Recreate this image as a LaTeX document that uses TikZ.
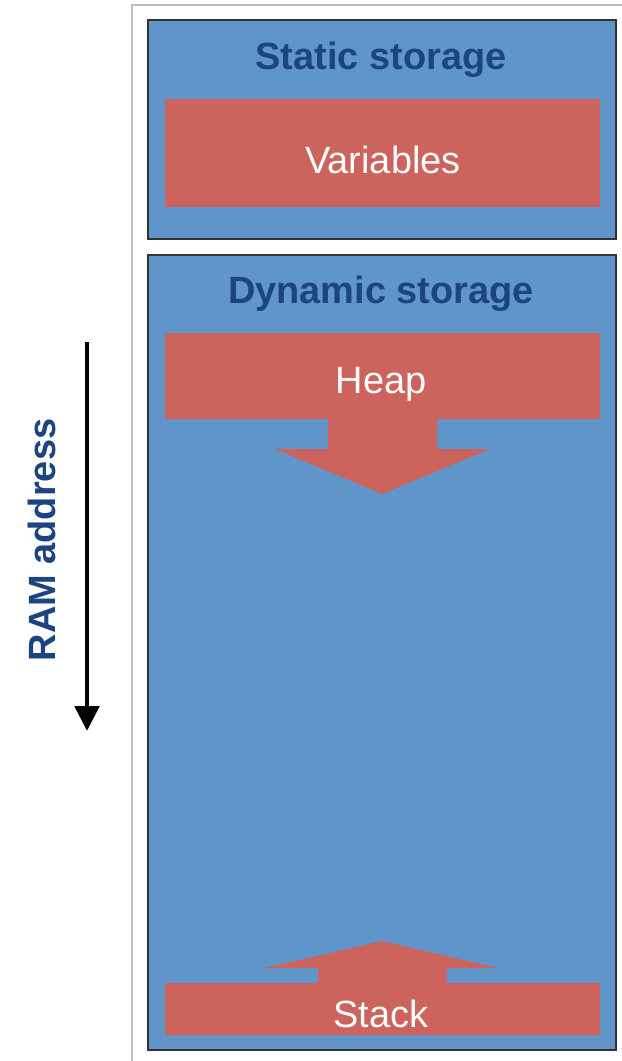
\documentclass[tikz,border=0pt]{standalone}
\usepackage{fontspec}
\setmainfont{Liberation Sans}
\usetikzlibrary{arrows.meta}
\definecolor{boxblue}{RGB}{95,149,201}
\definecolor{boxred}{RGB}{205,99,93}
\definecolor{titleblue}{RGB}{28,68,128}
\tikzset{
  region/.style={fill=boxblue,draw=black!80,line width=1.4pt},
  title/.style={font=\fontsize{27}{32}\selectfont\bfseries,text=titleblue},
  part/.style={font=\fontsize{27}{32}\selectfont,text=white}
}
\begin{document}
\begin{tikzpicture}[x=0.025cm,y=-0.025cm]
\useasboundingbox (0,0) rectangle (622,1061);

\draw[black!25,line width=1.2pt] (622,5) -- (132,5) -- (132,1061); % Outline of memory
%
\draw[region] (148,20) rectangle (616,239); % Static storage
\draw[region] (148,255) rectangle (616,1050); % Dynamic storage

\fill[boxred] (165,99) rectangle (600,207); % Variables
\fill[boxred] (165,333) -- (600,333) -- (600,419) -- (437,419) -- (437,449) -- (490,449)
  -- (382,494) -- (275,449) -- (328,449) -- (328,419) -- (165,419) -- cycle; % Heap grows down
\fill[boxred] (165,1035) -- (600,1035) -- (600,983) -- (447,983) -- (447,968) -- (498,968)
  -- (382,941) -- (265,968) -- (318,968) -- (318,983) -- (165,983) -- cycle; % Stack grows up

\node[title] (static) at (381,60) {Static storage};
\node[title] (dynamic) at (381,294) {Dynamic storage};
\node[part] (vars) at (383,160) {Variables};
\node[part] (heap) at (381,384) {Heap};
\node[part] (stack) at (381,1014) {Stack};

\coordinate (addrtop) at (87,342);
\coordinate (addrbot) at (87,731);
\draw[line width=3.5pt,-{Triangle[width=0.6cm,length=0.62cm]}] (addrtop) -- (addrbot); % Address direction
\node[title,rotate=90] (addr) at (42,540) {RAM address};

\end{tikzpicture}
\end{document}
